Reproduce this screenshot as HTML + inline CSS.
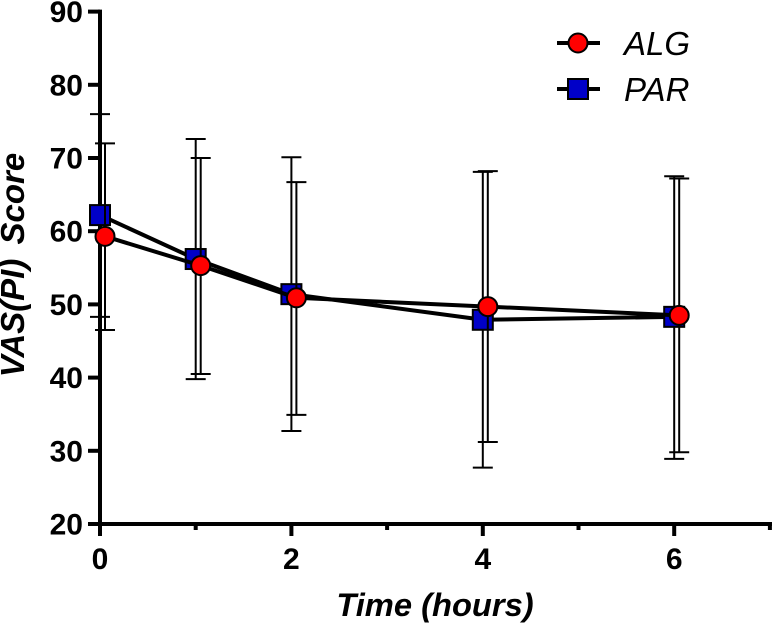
<!DOCTYPE html>
<html lang="en">
<head>
<meta charset="utf-8">
<title>VAS(PI) Score over Time</title>
<style>
html,body{margin:0;padding:0;background:#fff;}
svg{display:block;font-family:"Liberation Sans",Arial,sans-serif;}
</style>
</head>
<body>
<svg id="chart" width="772" height="623" viewBox="0 0 772 623" xmlns="http://www.w3.org/2000/svg">
  <rect width="772" height="623" fill="#fff"/>
  <g id="plot"></g>
  <g id="axes"></g>
  <g id="marks"></g>
  <text x="435" y="616" text-anchor="middle" font-size="32.7" font-weight="bold" font-style="italic" fill="#000">Time (hours)</text>
  <text transform="translate(24,265) rotate(-90)" text-anchor="middle" font-size="33" word-spacing="5" font-weight="bold" font-style="italic" fill="#000">VAS(PI) Score</text>
  <g>
    <g>
      <line x1="557" x2="600" y1="43" y2="43" stroke="#000" stroke-width="4"/>
      <circle cx="578" cy="43" r="9.5" fill="#ff0000" stroke="#000" stroke-width="2"/>
      <text x="624" y="55" font-size="33" font-style="italic" fill="#000">ALG</text>
    </g>
    <g>
      <line x1="557" x2="600" y1="89" y2="89" stroke="#000" stroke-width="4"/>
      <rect x="568" y="79" width="20" height="20" fill="#0000c8" stroke="#000" stroke-width="2"/>
      <text x="624" y="101" font-size="33" font-style="italic" fill="#000">PAR</text>
    </g>
  </g>
</svg>
<script>
var timePoints = [0, 1, 2, 4, 6];
var algMeans = [59.3, 55.3, 50.9, 49.7, 48.5];
var algUpper = [72.0, 70.0, 66.7, 68.2, 67.2];
var algLower = [46.5, 40.5, 34.9, 31.2, 29.8];
var parMeans = [62.2, 56.2, 51.4, 47.9, 48.3];
var parUpper = [76.0, 72.6, 70.1, 68.1, 67.5];
var parLower = [48.3, 39.8, 32.7, 27.7, 28.9];
var yTickLabels = [20, 30, 40, 50, 60, 70, 80, 90];
var xMajorTicks = [0, 2, 4, 6];
var xMinorTicks = [1, 3, 5, 7];

var NS = 'http://www.w3.org/2000/svg';
var ALG_OFFSET = 5;
function xScale(v) { return 100 + v * 95.7; }
function yScale(v) { return 524 - (v - 20) * 7.32; }
function make(tag, parent, attrs) {
  var el = document.createElementNS(NS, tag);
  for (var k in attrs) el.setAttribute(k, attrs[k]);
  parent.appendChild(el);
  return el;
}
var axes = document.getElementById('axes');
var marks = document.getElementById('marks');

var yAxis = make('line', axes, {x1: 100, x2: 100, y1: yScale(90) - 2, y2: 536, stroke: '#000', 'stroke-width': 4});


var xAxis = make('line', axes, {x1: 88, x2: 772, y1: yScale(20), y2: yScale(20), stroke: '#000', 'stroke-width': 4});



yTickLabels.forEach(function (v) {
  var y = yScale(v);
  var tick = make('line', axes, {x1: 88, x2: 100, y1: y, y2: y, stroke: '#000', 'stroke-width': 4});
  
  
  var label = make('text', axes, {x: 83, y: y + 10.5, 'text-anchor': 'end', 'font-size': 30, 'font-weight': 'bold', fill: '#000'});
  label.textContent = v;
  
  
});
xMajorTicks.forEach(function (v) {
  var x = xScale(v);
  var tick = make('line', axes, {x1: x, x2: x, y1: 524, y2: 536, stroke: '#000', 'stroke-width': 4});
  
  
  var label = make('text', axes, {x: x, y: 569, 'text-anchor': 'middle', 'font-size': 30, 'font-weight': 'bold', fill: '#000'});
  label.textContent = v;
  
  
});
xMinorTicks.forEach(function (v) {
  var x = xScale(v);
  var tick = make('line', axes, {x1: x, x2: x, y1: 524, y2: 530, stroke: '#000', 'stroke-width': 4});
  
  
});

function drawSeries(name, means, upper, lower, offset) {
  var group = make('g', marks, {});
  
  
  timePoints.forEach(function (t, i) {
    var x = xScale(t) + offset;
    var stem = make('line', group, {x1: x, x2: x, y1: yScale(upper[i]), y2: yScale(lower[i]), stroke: '#000', 'stroke-width': 2});
    
    
    [upper[i], lower[i]].forEach(function (val, j) {
      var cap = make('line', group, {x1: x - 10, x2: x + 10, y1: yScale(val), y2: yScale(val), stroke: '#000', 'stroke-width': 2});
      
      
    });
  });
  var pts = timePoints.map(function (t, i) { return (xScale(t) + offset) + ',' + yScale(means[i]); }).join(' ');
  var line = make('polyline', group, {points: pts, fill: 'none', stroke: '#000', 'stroke-width': 4, 'stroke-linejoin': 'round'});
  
  
  timePoints.forEach(function (t, i) {
    var x = xScale(t) + offset, y = yScale(means[i]), m;
    if (name === 'alg') {
      m = make('circle', group, {cx: x, cy: y, r: 9.5, fill: '#ff0000', stroke: '#000', 'stroke-width': 2});
    } else {
      m = make('rect', group, {x: x - 10, y: y - 10, width: 20, height: 20, fill: '#0000c8', stroke: '#000', 'stroke-width': 2});
    }
    
    
  });
}
drawSeries('par', parMeans, parUpper, parLower, 0);
drawSeries('alg', algMeans, algUpper, algLower, ALG_OFFSET);
</script>
</body>
</html>
